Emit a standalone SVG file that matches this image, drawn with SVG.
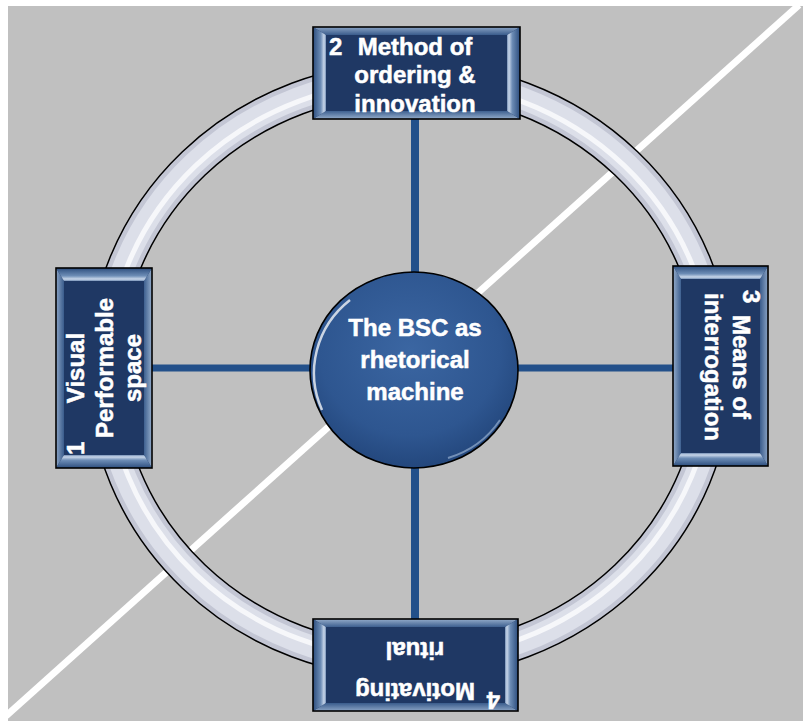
<svg xmlns="http://www.w3.org/2000/svg" width="803" height="721" viewBox="0 0 803 721">
<defs>
<style>
.t{font-family:"Liberation Sans",Arial,sans-serif;font-weight:bold;font-size:24px;fill:#ffffff;stroke:#ffffff;stroke-width:0.5}
.m{text-anchor:middle}
.edge{fill:none;stroke:#000;stroke-width:1.6}
.face{fill:#1f3864}
.spoke{stroke:#23508a;fill:none}
</style>
<linearGradient id="sideL" x1="0" y1="0" x2="1" y2="0">
<stop offset="0" stop-color="#2c4d7d"/>
<stop offset="0.6" stop-color="#6d8db6"/>
<stop offset="0.85" stop-color="#c9d7ea"/>
<stop offset="1" stop-color="#7590b6"/>
</linearGradient>
<linearGradient id="sideR" x1="1" y1="0" x2="0" y2="0">
<stop offset="0" stop-color="#2c4d7d"/>
<stop offset="0.6" stop-color="#6d8db6"/>
<stop offset="0.85" stop-color="#c9d7ea"/>
<stop offset="1" stop-color="#7590b6"/>
</linearGradient>
<linearGradient id="sideT" x1="0" y1="0" x2="0" y2="1">
<stop offset="0" stop-color="#8aa3c4"/>
<stop offset="1" stop-color="#3a5c8c"/>
</linearGradient>
<linearGradient id="sideB" x1="0" y1="1" x2="0" y2="0">
<stop offset="0" stop-color="#94acca"/>
<stop offset="1" stop-color="#3e6090"/>
</linearGradient>
<radialGradient id="ball" cx="0.48" cy="0.4" r="0.62">
<stop offset="0" stop-color="#3b66a2"/>
<stop offset="0.7" stop-color="#2e5690"/>
<stop offset="1" stop-color="#22457a"/>
</radialGradient>
</defs>

<rect id="background" x="8" y="6" width="795" height="715" fill="#c0c0c0"/>
<line id="diagonal" x1="799" y1="5" x2="6" y2="716" stroke="#ffffff" stroke-width="7"/>

<g id="ring" fill="none">
<ellipse cx="410" cy="370" rx="306" ry="292" stroke="#000" stroke-width="34"/>
<ellipse cx="410" cy="370" rx="306" ry="292" stroke="#c3c6d4" stroke-width="31"/>
<ellipse cx="410" cy="370" rx="306" ry="292" stroke="#dcdfe9" stroke-width="22"/>
<ellipse cx="410" cy="370" rx="303" ry="289" stroke="#f6f7fa" stroke-width="5"/>
</g>

<g id="connectors" class="spoke">
<line x1="415" y1="119" x2="415" y2="275" stroke-width="8"/>
<line x1="415" y1="466" x2="415" y2="619" stroke-width="8"/>
<line x1="152" y1="368" x2="312" y2="368" stroke-width="7"/>
<line x1="516" y1="368" x2="673" y2="368" stroke-width="7"/>
</g>

<g id="center">
<ellipse cx="414" cy="370" rx="104" ry="98" fill="url(#ball)" stroke="#000" stroke-width="1.6"/>
<path d="M 322 410 A 98 94 0 0 1 350 300" fill="none" stroke="#ffffff" stroke-width="2.5" opacity="0.75"/>
<path d="M 500 420 A 96 92 0 0 1 448 458" fill="none" stroke="#a9bfdc" stroke-width="2" opacity="0.6"/>
<text class="t m" x="415" y="336">The BSC as</text>
<text class="t m" x="415" y="368">rhetorical</text>
<text class="t m" x="415" y="400">machine</text>
</g>

<g id="node2" transform="translate(416.5,73)">
<rect class="face" x="-103.5" y="-46" width="207" height="92"/>
<polygon points="-103.5,-46 103.5,-46 90.5,-38 -90.5,-38" fill="url(#sideT)"/>
<polygon points="-103.5,46 103.5,46 90.5,38 -90.5,38" fill="url(#sideB)"/>
<polygon points="-103.5,-46 -90.5,-38 -90.5,38 -103.5,46" fill="url(#sideL)"/>
<polygon points="103.5,-46 90.5,-38 90.5,38 103.5,46" fill="url(#sideR)"/>
<rect class="edge" x="-103.5" y="-46" width="207" height="92"/>
<text class="t" x="-87.5" y="-18">2</text>
<text class="t m" x="-1.5" y="-18">Method of</text>
<text class="t m" x="-1.5" y="10">ordering &amp;</text>
<text class="t m" x="-1.5" y="39">innovation</text>
</g>

<g id="node1" transform="translate(104,368) rotate(-90)">
<rect class="face" x="-100" y="-48" width="200" height="96"/>
<polygon points="-100,-48 100,-48 87,-40 -87,-40" fill="url(#sideT)"/>
<polygon points="-100,48 100,48 87,40 -87,40" fill="url(#sideB)"/>
<polygon points="-100,-48 -87,-40 -87,40 -100,48" fill="url(#sideL)"/>
<polygon points="100,-48 87,-40 87,40 100,48" fill="url(#sideR)"/>
<rect class="edge" x="-100" y="-48" width="200" height="96"/>
<text class="t" x="-87" y="-20">1</text>
<text class="t m" x="0" y="-20">Visual</text>
<text class="t m" x="0" y="9">Performable</text>
<text class="t m" x="0" y="37">space</text>
</g>

<g id="node3" transform="translate(720.5,366) rotate(90)">
<rect class="face" x="-100" y="-47.5" width="200" height="95"/>
<polygon points="-100,-47.5 100,-47.5 87,-39.5 -87,-39.5" fill="url(#sideT)"/>
<polygon points="-100,47.5 100,47.5 87,39.5 -87,39.5" fill="url(#sideB)"/>
<polygon points="-100,-47.5 -87,-39.5 -87,39.5 -100,47.5" fill="url(#sideL)"/>
<polygon points="100,-47.5 87,-39.5 87,39.5 100,47.5" fill="url(#sideR)"/>
<rect class="edge" x="-100" y="-47.5" width="200" height="95"/>
<text class="t" x="-76" y="-22.5">3</text>
<text class="t m" x="1" y="-12.5">Means of</text>
<text class="t m" x="1" y="15.5">interrogation</text>
</g>

<g id="node4" transform="translate(415.5,665) rotate(180)">
<rect class="face" x="-102.5" y="-46" width="205" height="92"/>
<polygon points="-102.5,-46 102.5,-46 89.5,-38 -89.5,-38" fill="url(#sideT)"/>
<polygon points="-102.5,46 102.5,46 89.5,38 -89.5,38" fill="url(#sideB)"/>
<polygon points="-102.5,-46 -89.5,-38 -89.5,38 -102.5,46" fill="url(#sideL)"/>
<polygon points="102.5,-46 89.5,-38 89.5,38 102.5,46" fill="url(#sideR)"/>
<rect class="edge" x="-102.5" y="-46" width="205" height="92"/>
<text class="t" x="-84.5" y="-27">4</text>
<text class="t m" x="0.5" y="-18">Motivating</text>
<text class="t m" x="0.5" y="23">ritual</text>
</g>
</svg>
